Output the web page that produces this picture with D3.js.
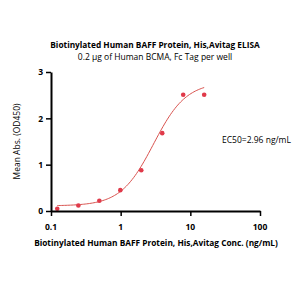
<!DOCTYPE html>
<html>
<head>
<meta charset="utf-8">
<script src="https://cdn.jsdelivr.net/npm/d3@7"></script>
<style>
  body { margin: 0; background: #fff; }
  text { font-family: "Open Sans", "DejaVu Sans", sans-serif; }
</style>
</head>
<body>
<div id="chart"></div>
<script>
// measured points
const conc = [0.123, 0.247, 0.494, 0.988, 1.975, 3.95, 7.9, 15.8];
const od = [0.05, 0.12, 0.22, 0.45, 0.88, 1.68, 2.51, 2.51];
// 4PL fit params
const fitBottom = 0.11, fitTop = 2.78, ec50 = 2.96, hill = 1.85;
const xTicks = [0.1, 1, 10, 100];
const xTickLabels = ["0.1", "1", "10", "100"];
const yTicks = [0, 1, 2, 3];

const width = 300, height = 300;
const margin = { top: 72, right: 40, bottom: 89, left: 51 };

const svg = d3.select("#chart")
    .append("svg")
    .attr("width", width)
    .attr("height", height);

const x = d3.scaleLog()
    .domain([0.1, 100])
    .range([margin.left, width - margin.right]);

const y = d3.scaleLinear()
    .domain([0, 3])
    .range([height - margin.bottom, margin.top]);

// fitted curve
const fit = c => fitBottom + (fitTop - fitBottom) / (1 + Math.pow(ec50 / c, hill));
const curveX = d3.range(0, 101).map(i => conc[0] * Math.pow(conc[conc.length - 1] / conc[0], i / 100));

svg.append("path")
    .datum(curveX)
    .attr("fill", "none")
    .attr("stroke", "#d9534f")
    .attr("stroke-width", 1)
    .attr("d", d3.line().x(d => x(d)).y(d => y(fit(d))));

// points
svg.selectAll("circle.pt")
    .data(conc)
    .join("circle")
    .attr("class", "pt")
    .attr("cx", d => x(d))
    .attr("cy", (d, i) => y(od[i]))
    .attr("r", 2.3)
    .attr("fill", "#e03a4a");

// y axis
svg.append("g")
    .attr("transform", `translate(${margin.left},0)`)
    .call(d3.axisLeft(y).tickValues(yTicks).tickFormat(d3.format("d")).tickSize(5).tickSizeOuter(0))
    .call(g => g.select(".domain").attr("stroke-width", 2))
    .call(g => g.selectAll(".tick line").attr("stroke-width", 1.5))
    .selectAll("text")
    .style("font-size", "8.5px")
    .style("font-weight", "bold");

// x axis (labels drawn separately below)
svg.append("g")
    .attr("transform", `translate(0,${height - margin.bottom})`)
    .call(d3.axisBottom(x).tickValues(xTicks).tickFormat("").tickSize(5).tickSizeOuter(0))
    .call(g => g.select(".domain").attr("stroke-width", 2))
    .call(g => g.selectAll(".tick line").attr("stroke-width", 1.5));

svg.append("g")
    .selectAll("text")
    .data(xTicks)
    .join("text")
    .attr("x", d => x(d))
    .attr("y", height - margin.bottom + 19)
    .attr("text-anchor", "middle")
    .style("font-size", "8.5px")
    .style("font-weight", "bold")
    .attr("fill", "#000")
    .text((d, i) => xTickLabels[i]);

// titles
svg.append("text")
    .attr("x", 155).attr("y", 48)
    .attr("text-anchor", "middle")
    .style("font-size", "8.3px")
    .style("font-weight", "bold")
    .text("Biotinylated Human BAFF Protein, His,Avitag ELISA");

svg.append("text")
    .attr("x", 155).attr("y", 60)
    .attr("text-anchor", "middle")
    .style("font-size", "8.5px")
    .text("0.2 \u03bcg of Human BCMA, Fc Tag per well");

svg.append("text")
    .attr("transform", `translate(17, ${(margin.top + height - margin.bottom) / 2}) rotate(-90)`)
    .attr("text-anchor", "middle")
    .attr("dy", "0.35em")
    .style("font-size", "8.5px")
    .text("Mean Abs. (OD450)");

svg.append("text")
    .attr("x", 156).attr("y", 246)
    .attr("text-anchor", "middle")
    .style("font-size", "8.3px")
    .style("font-weight", "bold")
    .text("Biotinylated Human BAFF Protein, His,Avitag Conc. (ng/mL)");

svg.append("text")
    .attr("x", 222).attr("y", 143)
    .style("font-size", "8.5px")
    .text("EC50=2.96 ng/mL");
</script>
</body>
</html>
